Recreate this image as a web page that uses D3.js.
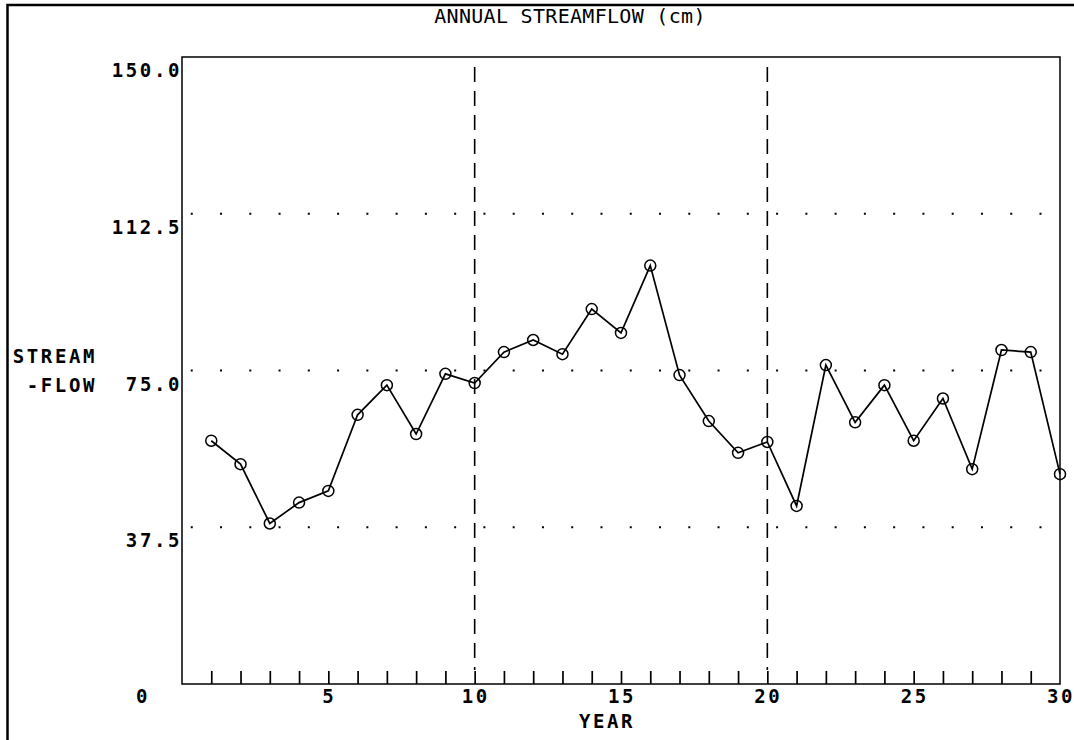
<!DOCTYPE html>
<html>
<head>
<meta charset="utf-8">
<script src="https://cdn.jsdelivr.net/npm/d3@7"></script>
<style>
  body { margin: 0; background: #fff; }
  svg { display: block; }
  text { font-family: "DejaVu Sans Mono", "Liberation Mono", monospace; fill: #000; }
</style>
</head>
<body>
<script>
// annual streamflow, years 1..30
const years = d3.range(1, 31);
const flow = [58.2, 52.6, 38.4, 43.4, 46.2, 64.4, 71.5, 59.8, 74.2, 72.0,
              79.4, 82.3, 78.9, 89.7, 84.0, 100.1, 73.9, 62.9, 55.3, 57.9,
              42.6, 76.3, 62.6, 71.5, 58.2, 68.3, 51.4, 79.9, 79.4, 50.2];
const yTicks = [37.5, 75.0, 112.5, 150.0];
const xLabels = [0, 5, 10, 15, 20, 25, 30];
const dashedYears = [10, 20];

const svgWidth = 1074;
const svgHeight = 740;
const plot = {left: 182, right: 1060, top: 57, bottom: 684};

window.onload = main;

function boldLabel(sel) {
    return sel
        .style("font-size", "19px")
        .style("font-weight", "bold")
        .style("letter-spacing", "2.6px");
}

function main() {
    const svg = d3.select("body").append("svg")
        .attr("width", svgWidth)
        .attr("height", svgHeight);

    const scaleX = d3.scaleLinear().domain([0, 30]).range([plot.left, plot.right]);
    const scaleY = d3.scaleLinear().domain([0, 150]).range([plot.bottom, plot.top]);

    // outer frame (left + top edges only visible)
    svg.append("path")
        .attr("d", `M7.5,${svgHeight} L7.5,5 L${svgWidth},5`)
        .attr("fill", "none")
        .attr("stroke", "#000")
        .attr("stroke-width", 2.5);

    // title
    svg.append("text")
        .attr("x", 570)
        .attr("y", 23)
        .attr("text-anchor", "middle")
        .style("font-size", "20px")
        .style("letter-spacing", "0.3px")
        .text("ANNUAL STREAMFLOW (cm)");

    // plot box
    svg.append("rect")
        .attr("x", plot.left)
        .attr("y", plot.top)
        .attr("width", plot.right - plot.left)
        .attr("height", plot.bottom - plot.top)
        .attr("fill", "none")
        .attr("stroke", "#000")
        .attr("stroke-width", 1.5);

    // dotted horizontal grid (one dot per year, shifted a third)
    const dotX = d3.range(0, 30).map(k => k + 1 / 3);
    yTicks.filter(v => v < 150).forEach(v => {
        svg.append("g").selectAll("rect")
            .data(dotX)
            .join("rect")
            .attr("x", d => scaleX(d) - 1)
            .attr("y", scaleY(v) - 1)
            .attr("width", 2)
            .attr("height", 2)
            .attr("fill", "#000");
    });

    // dashed verticals
    svg.append("g").selectAll("line")
        .data(dashedYears)
        .join("line")
        .attr("x1", d => scaleX(d))
        .attr("x2", d => scaleX(d))
        .attr("y1", plot.top + 10)
        .attr("y2", plot.bottom - 14)
        .attr("stroke", "#000")
        .attr("stroke-width", 1.6)
        .attr("stroke-dasharray", "15,9");

    // x ticks, pointing up into the plot
    const xAxis = d3.axisTop(scaleX)
        .tickValues(years.slice(0, 29))
        .tickSize(13)
        .tickFormat("");
    svg.append("g")
        .attr("transform", `translate(0,${plot.bottom})`)
        .call(xAxis)
        .call(g => g.select(".domain").remove())
        .call(g => g.selectAll("line").attr("stroke", "#000").attr("stroke-width", 1.7));

    // x labels
    svg.append("g").selectAll("text")
        .data(xLabels)
        .join("text")
        .attr("x", d => d === 0 ? scaleX(d) - 39 : scaleX(d) + 1)
        .attr("y", 703)
        .attr("text-anchor", "middle")
        .call(boldLabel)
        .text(d => d);

    svg.append("text")
        .attr("x", 607)
        .attr("y", 728)
        .attr("text-anchor", "middle")
        .call(boldLabel)
        .text("YEAR");

    // y labels, hung below their value
    svg.append("g").selectAll("text")
        .data(yTicks)
        .join("text")
        .attr("x", 182)
        .attr("y", d => scaleY(d) + 20)
        .attr("text-anchor", "end")
        .call(boldLabel)
        .text(d => d.toFixed(1));

    svg.append("text")
        .attr("x", 97)
        .attr("y", 363)
        .attr("text-anchor", "end")
        .call(boldLabel)
        .text("STREAM");
    svg.append("text")
        .attr("x", 97)
        .attr("y", 392)
        .attr("text-anchor", "end")
        .call(boldLabel)
        .text("-FLOW");

    // series
    const data = years.map((yr, i) => ({year: yr, value: flow[i]}));
    const line = d3.line()
        .x(d => scaleX(d.year))
        .y(d => scaleY(d.value));

    svg.append("path")
        .datum(data)
        .attr("d", line)
        .attr("fill", "none")
        .attr("stroke", "#000")
        .attr("stroke-width", 1.7);

    svg.append("g").selectAll("circle")
        .data(data)
        .join("circle")
        .attr("cx", d => scaleX(d.year))
        .attr("cy", d => scaleY(d.value))
        .attr("r", 5.5)
        .attr("fill", "none")
        .attr("stroke", "#000")
        .attr("stroke-width", 1.5);
}
</script>
</body>
</html>
